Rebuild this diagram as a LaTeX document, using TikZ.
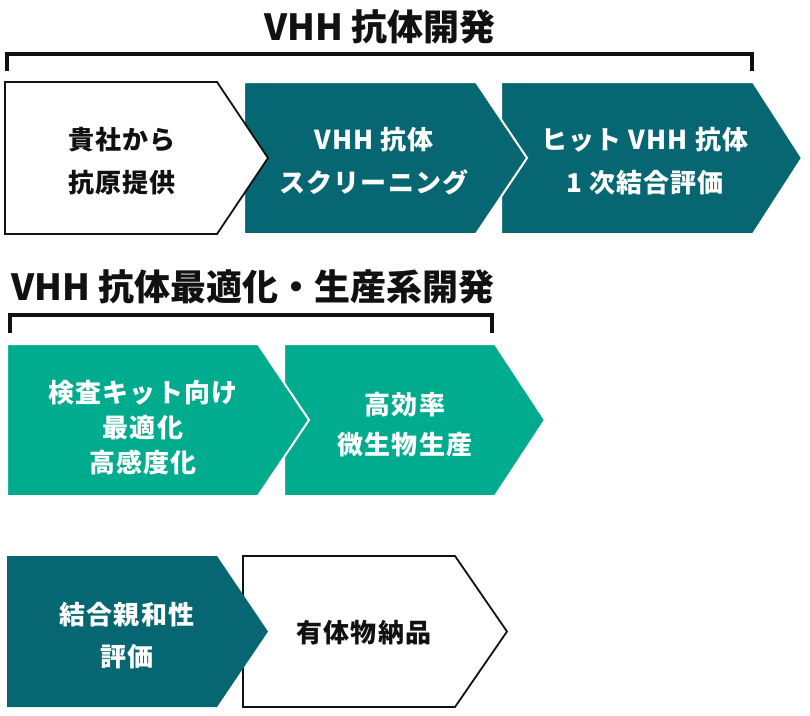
\documentclass[tikz,border=0pt]{standalone}
\usepackage{fontspec}
\setmainfont{Noto Sans CJK JP}
\newfontfamily\boxfont{Noto Sans CJK JP}[LetterSpace=4]
\definecolor{darkteal}{RGB}{6,103,114}
\definecolor{vgreen}{RGB}{0,171,142}
\definecolor{ink}{RGB}{17,17,17}
\tikzset{
  titletext/.style={font=\fontsize{36}{40}\selectfont\bfseries, text=ink, inner sep=0pt},
  boxtext/.style={font=\fontsize{26}{#1}\boxfont\bfseries, align=center, inner sep=0pt},
  boxtext/.default=43,
  darkbox/.style={fill=darkteal, draw=white, line width=2pt, line join=miter},
  greenbox/.style={fill=vgreen, draw=white, line width=2pt, line join=miter},
  plainbox/.style={fill=white, draw=ink, line width=1.8pt, line join=miter},
  bracketline/.style={draw=ink, line width=3.5pt, line join=miter},
}
\begin{document}
\begin{tikzpicture}[x=1pt,y=-1pt]
\useasboundingbox (0,0) rectangle (810,715);

% ---- Title 1
\node[titletext] (t1) at (380,27) {VHH 抗体開発};
\draw[bracketline] (7,71) -- (7,54) -- (752,54) -- (752,71);

% ---- Row 1
\draw[darkbox] (501,82) -- (753,82) -- (802,158) -- (753,234) -- (501,234) -- cycle;
\draw[darkbox] (244,82) -- (476,82) -- (527,158) -- (476,234) -- (244,234) -- cycle;
\draw[plainbox] (5,82) -- (217,82) -- (268,158) -- (217,234) -- (5,234) -- cycle;
\node[boxtext, text=ink] (b1) at (122,161.5) {貴社から\\抗原提供};
\node[boxtext, text=white] (b2) at (374,161.5) {VHH 抗体\\スクリーニング};
\node[boxtext, text=white] (b3) at (645,161.5) {ヒット VHH 抗体\\1 次結合評価};

% ---- Title 2
\node[titletext, anchor=west] (t2) at (11,287) {VHH 抗体最適化・生産系開発};
\draw[bracketline] (10,333) -- (10,315) -- (492,315) -- (492,333);

% ---- Row 2
\draw[greenbox] (284,344) -- (495,344) -- (545,420) -- (495,496) -- (284,496) -- cycle;
\draw[greenbox] (7,344) -- (258,344) -- (309,420) -- (258,496) -- (7,496) -- cycle;
\node[boxtext=35, text=white] (b4) at (143,428) {検査キット向け\\最適化\\高感度化};
\node[boxtext=40, text=white] (b5) at (405,425) {高効率\\微生物生産};

% ---- Row 3
\draw[plainbox] (243,556) -- (455,556) -- (507,631.5) -- (455,707) -- (243,707) -- cycle;
\fill[darkteal] (7,556) -- (217,556) -- (268,631.5) -- (217,707) -- (7,707) -- cycle;
\node[boxtext=42, text=white] (b6) at (127,636) {結合親和性\\評価};
\node[boxtext, text=ink] (b7) at (364,633) {有体物納品};
\end{tikzpicture}
\end{document}
